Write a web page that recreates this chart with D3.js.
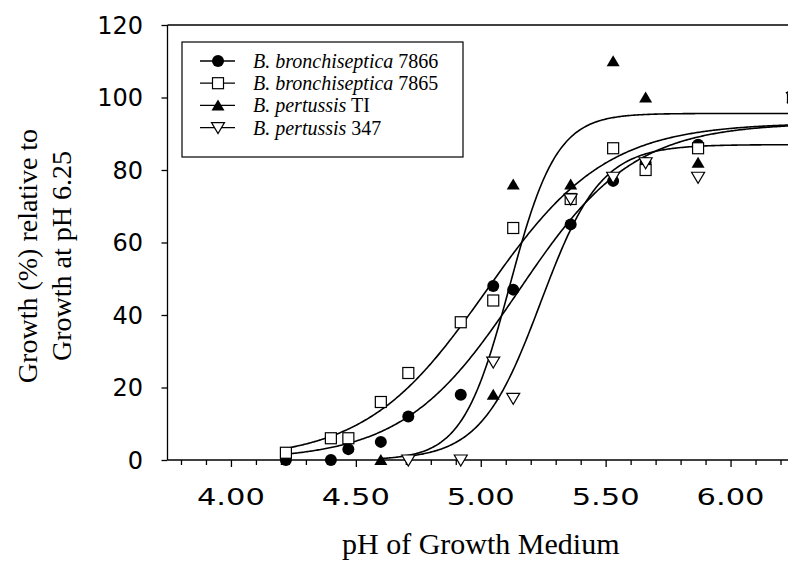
<!DOCTYPE html>
<html>
<head>
<meta charset="utf-8">
<script src="https://cdn.jsdelivr.net/npm/d3@7"></script>
<style>
    body { margin: 0; background: #fff; }
    svg { display: block; }
    .serif { font-family: "Liberation Serif", "Times New Roman", serif; fill: #000; }
    .tick-label { font-family: "DejaVu Sans", sans-serif; font-size: 23px; fill: #000; }
</style>
</head>
<body>
<div id="chart"></div>
<script>
// pH values where growth was measured
const phValues = [4.22, 4.40, 4.47, 4.60, 4.71, 4.92, 5.05, 5.13, 5.36, 5.53, 5.66, 5.87, 6.25];

// growth (%) relative to growth at pH 6.25, null = not measured
const bb7866 = [0, 0, 3, 5, 12, 18, 48, 47, 65, 77, 82, 87, 100];
const bb7865 = [2, 6, 6, 16, 24, 38, 44, 64, 72, 86, 80, 86, 100];
const bpTI = [null, null, null, 0, null, null, 18, 76, 76, 110, 100, 82, 100];
const bp347 = [null, null, null, null, 0, 0, 27, 17, 72, 78, 82, 78, 100];

const seriesNames = [
    ["B. bronchiseptica", " 7866"],
    ["B. bronchiseptica", " 7865"],
    ["B. pertussis", " TI"],
    ["B. pertussis", " 347"]
];
const seriesSymbols = ["circle", "square", "triangle", "triangleDown"];

// sigmoid fit: top, midpoint, slope, first pH
const fitTop = [93, 93, 95.6, 87];
const fitMid = [5.15, 5.02, 5.115, 5.24];
const fitSlope = [0.23, 0.24, 0.094, 0.12];
const fitStart = [4.22, 4.22, 4.60, 4.71];

const xTicks = [4.0, 4.5, 5.0, 5.5, 6.0];
const yTicks = [0, 20, 40, 60, 80, 100, 120];

const W = 788, H = 564;
const margin = {t: 25, l: 168.5, r: -5, b: 104};

const svg = d3.select("#chart").append("svg")
    .attr("width", W)
    .attr("height", H);

svg.append("rect").attr("width", W).attr("height", H).attr("fill", "#fff");

const x = d3.scaleLinear().domain([3.75, 6.25]).range([margin.l, W - margin.r]);
const y = d3.scaleLinear().domain([0, 120]).range([H - margin.b, margin.t]);

const allSeries = [bb7866, bb7865, bpTI, bp347].map((vals, i) => ({
    name: seriesNames[i],
    symbol: seriesSymbols[i],
    points: vals.map((v, j) => ({ph: phValues[j], v: v})).filter((d) => d.v !== null),
    fit: {top: fitTop[i], mid: fitMid[i], slope: fitSlope[i], start: fitStart[i]}
}));

// frame: top line and axes
svg.append("line")
    .attr("x1", x(3.75) - 1).attr("x2", W)
    .attr("y1", y(120)).attr("y2", y(120))
    .attr("stroke", "#000").attr("stroke-width", 1.3);

const xMinor = d3.range(38, 63).map((d) => d / 10);
const xAxis = svg.append("g")
    .attr("transform", `translate(0,${y(0)})`)
    .call(d3.axisBottom(x).tickValues(xMinor).tickSize(5).tickFormat(""));
xAxis.select(".domain").attr("d", `M${x(3.75) - 1},0H${W}`);
xAxis.selectAll(".tick line")
    .attr("y2", (d) => (Math.abs(d * 2 - Math.round(d * 2)) < 1e-6 ? 7 : 5));
xAxis.selectAll("path, line").attr("stroke-width", 1.3);

// wide, round digits like the original
svg.append("g").selectAll("text")
    .data(xTicks)
    .join("text")
    .attr("class", "tick-label")
    .attr("x", (d) => x(d) - 34)
    .attr("y", y(0) + 45)
    .attr("textLength", 68)
    .attr("lengthAdjust", "spacingAndGlyphs")
    .text((d) => d.toFixed(2));

const yAxis = svg.append("g")
    .attr("transform", `translate(${x(3.75) - 1},0)`)
    .call(d3.axisLeft(y).tickValues(yTicks).tickSize(6).tickFormat(""));
yAxis.selectAll("path, line").attr("stroke-width", 1.3);
yAxis.select(".domain").attr("d", `M0,${y(120)}V${y(0)}`);

svg.append("g").selectAll("text")
    .data(yTicks)
    .join("text")
    .attr("class", "tick-label")
    .attr("x", 143)
    .attr("y", (d) => y(d))
    .attr("dy", "0.36em")
    .attr("text-anchor", "end")
    .style("font-size", "24px")
    .text((d) => d);

// axis titles
svg.append("text")
    .attr("class", "serif")
    .attr("x", x(5))
    .attr("y", 554)
    .attr("text-anchor", "middle")
    .style("font-size", "30px")
    .text("pH of Growth Medium");

const yTitle = svg.append("g").attr("transform", "translate(0,256) rotate(-90)");
yTitle.append("text")
    .attr("class", "serif")
    .attr("x", 0).attr("y", 37)
    .attr("text-anchor", "middle")
    .style("font-size", "28px")
    .text("Growth (%) relative to");
yTitle.append("text")
    .attr("class", "serif")
    .attr("x", 0).attr("y", 71)
    .attr("text-anchor", "middle")
    .style("font-size", "28px")
    .text("Growth at pH 6.25");

// clip for the plot area (chart is cut off at the right edge)
svg.append("clipPath").attr("id", "plot-clip")
    .append("rect")
    .attr("x", x(3.75)).attr("y", 0)
    .attr("width", W).attr("height", y(0) + 10);

const plot = svg.append("g").attr("clip-path", "url(#plot-clip)");

// fitted curves
const line = d3.line().x((d) => x(d[0])).y((d) => y(d[1]));
plot.append("g").attr("class", "fits")
    .selectAll("path")
    .data(allSeries)
    .join("path")
    .attr("fill", "none")
    .attr("stroke", "#000")
    .attr("stroke-width", 1.6)
    .attr("d", (s) => {
        const f = s.fit;
        const pts = d3.range(f.start, 6.4, 0.005)
            .map((p) => [p, f.top / (1 + Math.exp(-(p - f.mid) / f.slope))]);
        return line(pts);
    });

// markers
function drawSymbol(g, type) {
    if (type === "circle") {
        g.append("circle").attr("r", 6).attr("fill", "#000");
    } else if (type === "square") {
        g.append("rect")
            .attr("x", -5.5).attr("y", -5.5)
            .attr("width", 11).attr("height", 11)
            .attr("fill", "#fff").attr("stroke", "#000").attr("stroke-width", 1.2);
    } else if (type === "triangle") {
        g.append("path").attr("d", "M0,-6L6.5,5L-6.5,5Z").attr("fill", "#000");
    } else {
        g.append("path").attr("d", "M-6.5,-5L6.5,-5L0,6Z")
            .attr("fill", "#fff").attr("stroke", "#000").attr("stroke-width", 1.2);
    }
}

allSeries.forEach((s) => {
    plot.append("g")
        .selectAll("g")
        .data(s.points)
        .join("g")
        .attr("transform", (d) => `translate(${x(d.ph)},${y(d.v)})`)
        .each(function () { drawSymbol(d3.select(this), s.symbol); });
});

// legend
const legend = svg.append("g").attr("transform", "translate(182,42)");
legend.append("rect")
    .attr("width", 281).attr("height", 115)
    .attr("fill", "#fff").attr("stroke", "#000").attr("stroke-width", 1.2);

const rows = legend.selectAll(".row")
    .data(allSeries)
    .join("g")
    .attr("class", "row")
    .attr("transform", (d, i) => `translate(0,${19 + i * 22.2})`);

rows.append("line")
    .attr("x1", 18).attr("x2", 53)
    .attr("stroke", "#000").attr("stroke-width", 1.3);
rows.append("g")
    .attr("transform", "translate(36,0)")
    .each(function (d) { drawSymbol(d3.select(this), d.symbol); });

const labels = rows.append("text")
    .attr("class", "serif")
    .attr("x", 71).attr("y", 7)
    .style("font-size", "20px");
labels.append("tspan").style("font-style", "italic").text((d) => d.name[0]);
labels.append("tspan").text((d) => d.name[1]);
</script>
</body>
</html>
